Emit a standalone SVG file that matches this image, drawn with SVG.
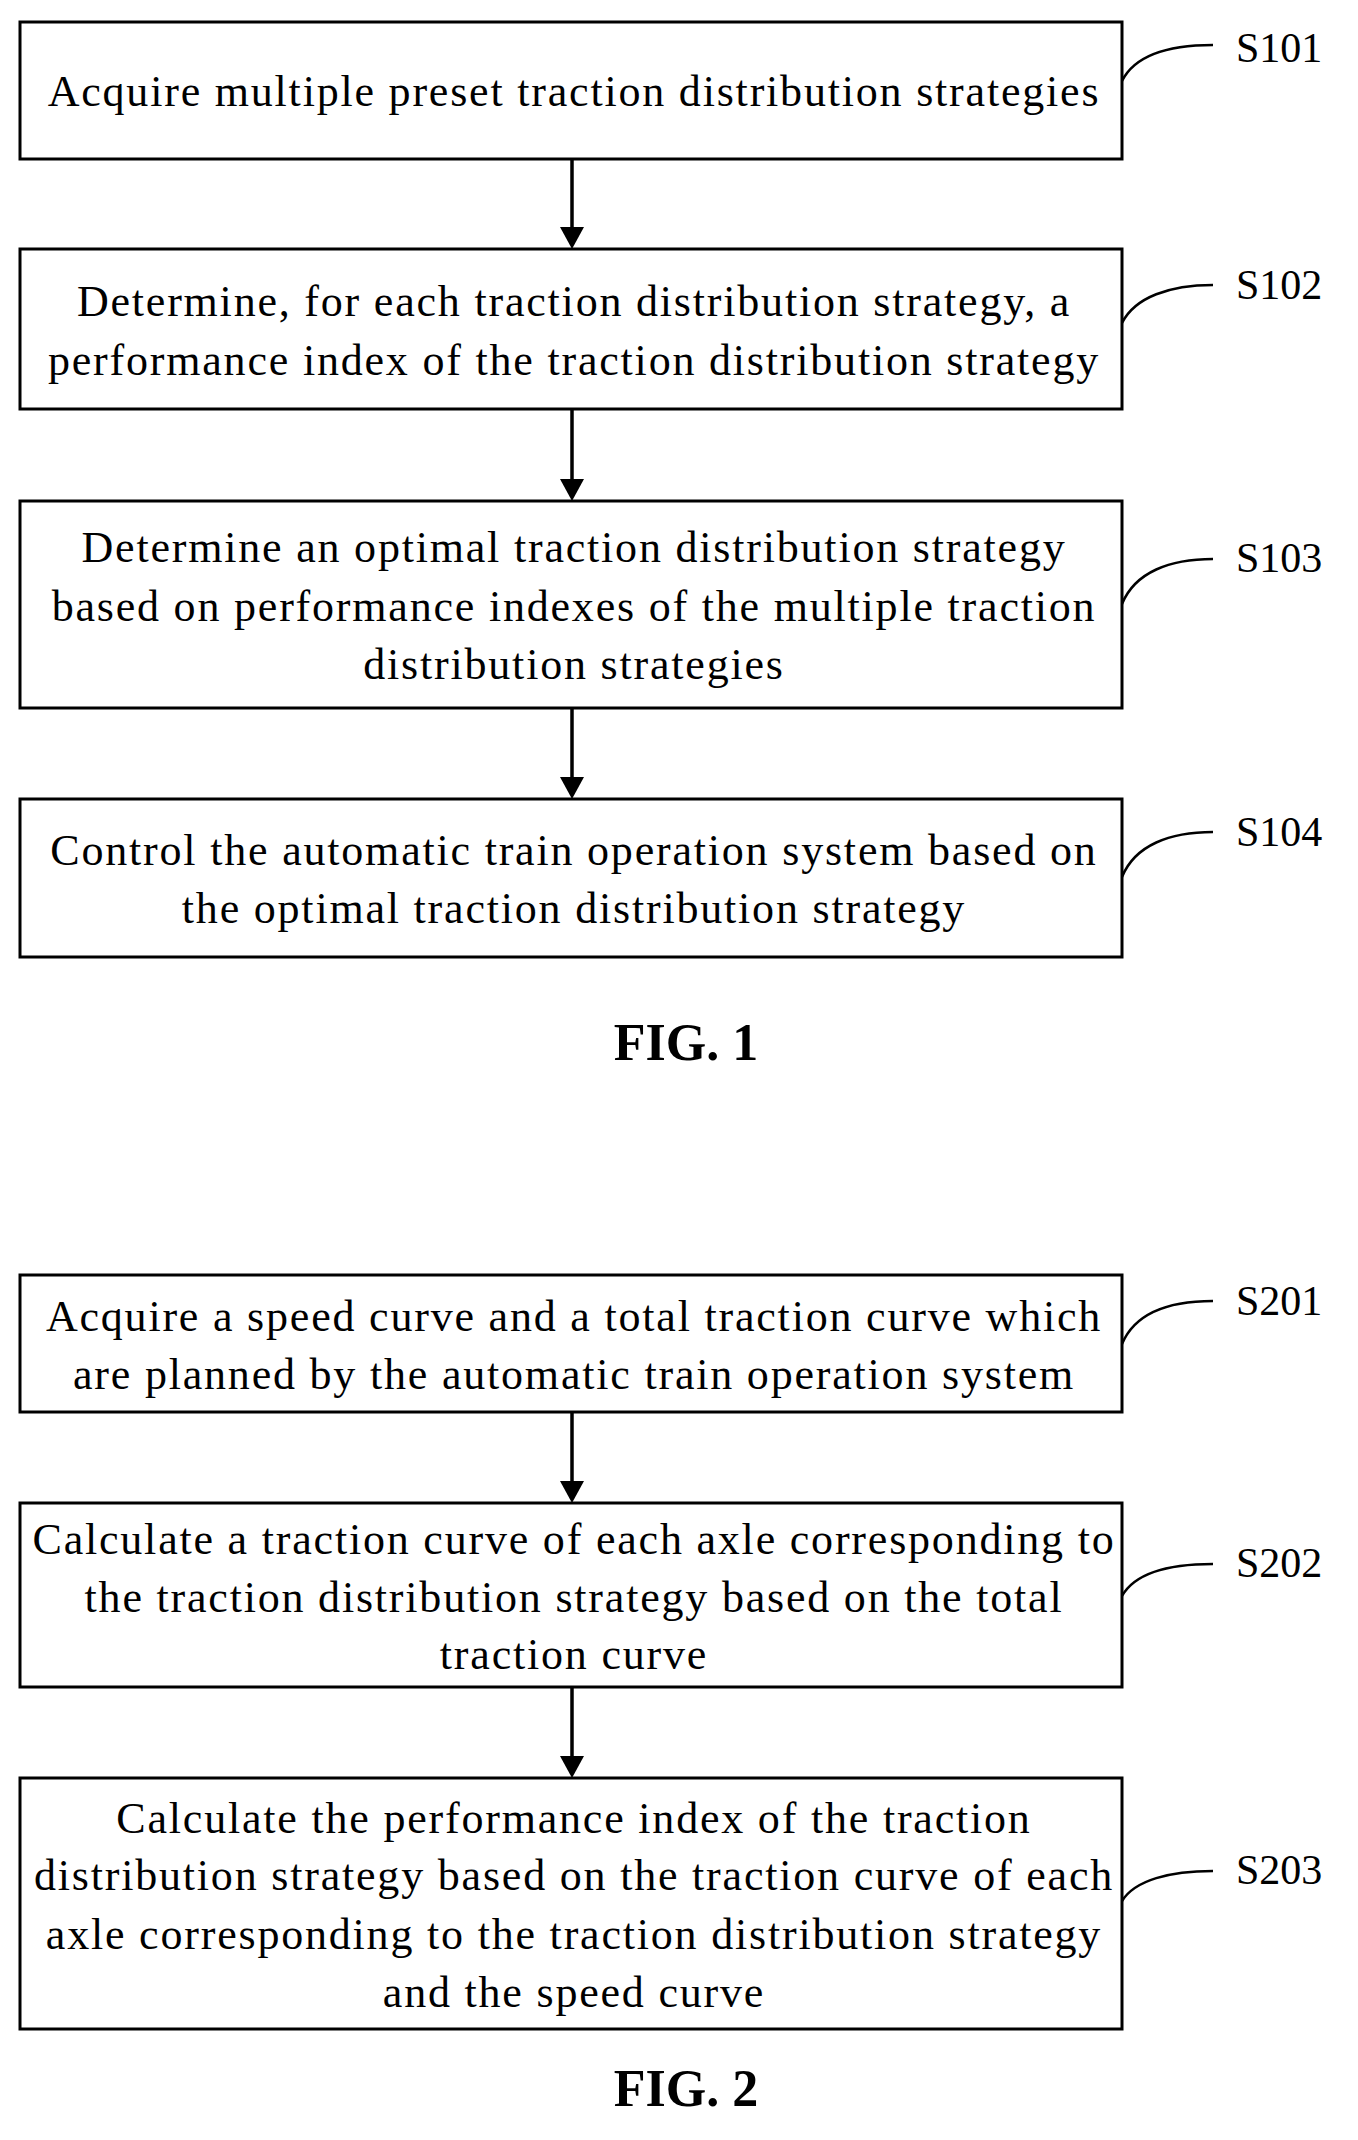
<svg xmlns="http://www.w3.org/2000/svg" width="1358" height="2140" viewBox="0 0 1358 2140">
<style>
.b{fill:#fff;stroke:#000;stroke-width:3}
.t{font-family:"Liberation Serif",serif;font-size:44px;letter-spacing:1.8px;text-anchor:middle;fill:#000}
.l{font-family:"Liberation Serif",serif;font-size:42px;fill:#000}
.f{font-family:"Liberation Serif",serif;font-size:52px;font-weight:bold;text-anchor:middle}
.c{fill:none;stroke:#000;stroke-width:2.5}
.a{stroke:#000;stroke-width:3.5}
</style>
<rect width="1358" height="2140" fill="#fff"/>
<g id="connectors">
<line class="a" x1="572" y1="159" x2="572" y2="232"/>
<path d="M560,227 L572,249 L584,227z"/>
<line class="a" x1="572" y1="409" x2="572" y2="484"/>
<path d="M560,479 L572,501 L584,479z"/>
<line class="a" x1="572" y1="708" x2="572" y2="782"/>
<path d="M560,777 L572,799 L584,777z"/>
<line class="a" x1="572" y1="1412" x2="572" y2="1486"/>
<path d="M560,1481 L572,1503 L584,1481z"/>
<line class="a" x1="572" y1="1687" x2="572" y2="1761"/>
<path d="M560,1756 L572,1778 L584,1756z"/>
<path class="c" d="M1122,81 C1135,55 1170,45 1213,45"/>
<path class="c" d="M1122,323 C1135,297 1170,285 1213,285"/>
<path class="c" d="M1122,604 C1135,572 1170,559 1213,559"/>
<path class="c" d="M1122,877 C1135,845 1170,832 1213,832"/>
<path class="c" d="M1122,1344 C1135,1313 1170,1301 1213,1301"/>
<path class="c" d="M1122,1596 C1135,1573 1170,1564 1213,1564"/>
<path class="c" d="M1122,1901 C1135,1880 1170,1871 1213,1871"/>
</g>
<g id="S101"><rect class="b" x="20" y="22" width="1102" height="137"/><text class="t" x="574" y="106">Acquire multiple preset traction distribution strategies</text><text class="l" x="1236" y="62">S101</text></g>
<g id="S102"><rect class="b" x="20" y="249" width="1102" height="160"/><text class="t" x="574" y="316">Determine, for each traction distribution strategy, a</text><text class="t" x="574" y="375">performance index of the traction distribution strategy</text><text class="l" x="1236" y="299">S102</text></g>
<g id="S103"><rect class="b" x="20" y="501" width="1102" height="207"/><text class="t" x="574" y="562">Determine an optimal traction distribution strategy</text><text class="t" x="574" y="621">based on performance indexes of the multiple traction</text><text class="t" x="574" y="679">distribution strategies</text><text class="l" x="1236" y="572">S103</text></g>
<g id="S104"><rect class="b" x="20" y="799" width="1102" height="158"/><text class="t" x="574" y="865">Control the automatic train operation system based on</text><text class="t" x="574" y="923">the optimal traction distribution strategy</text><text class="l" x="1236" y="846">S104</text></g>
<text class="f" x="686" y="1060">FIG. 1</text>
<g id="S201"><rect class="b" x="20" y="1275" width="1102" height="137"/><text class="t" x="574" y="1331">Acquire a speed curve and a total traction curve which</text><text class="t" x="574" y="1389">are planned by the automatic train operation system</text><text class="l" x="1236" y="1315">S201</text></g>
<g id="S202"><rect class="b" x="20" y="1503" width="1102" height="184"/><text class="t" x="574" y="1554">Calculate a traction curve of each axle corresponding to</text><text class="t" x="574" y="1612">the traction distribution strategy based on the total</text><text class="t" x="574" y="1669">traction curve</text><text class="l" x="1236" y="1577">S202</text></g>
<g id="S203"><rect class="b" x="20" y="1778" width="1102" height="251"/><text class="t" x="574" y="1833">Calculate the performance index of the traction</text><text class="t" x="574" y="1890">distribution strategy based on the traction curve of each</text><text class="t" x="574" y="1949">axle corresponding to the traction distribution strategy</text><text class="t" x="574" y="2007">and the speed curve</text><text class="l" x="1236" y="1884">S203</text></g>
<text class="f" x="686" y="2106">FIG. 2</text>
</svg>
